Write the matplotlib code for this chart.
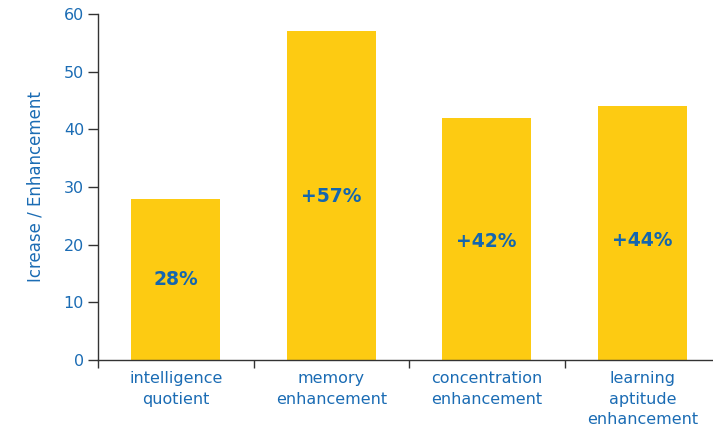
import matplotlib.pyplot as plt
import numpy as np

# data
categories = ["intelligence\nquotient", "memory\nenhancement",
              "concentration\nenhancement", "learning\naptitude\nenhancement"]
values = [28, 57, 42, 44]
bar_labels = ["28%", "+57%", "+42%", "+44%"]

bar_color = "#FDCB12"
text_blue = "#1B6CB4"
label_blue = "#1466AE"

fig = plt.figure(figsize=(7.13, 4.32), dpi=100)
# axes run slightly past the right edge of the figure
ax = fig.add_axes([98 / 713, 1 - 360 / 432, 622 / 713, 346 / 432])

x = np.arange(len(categories))
bars = ax.bar(x, values, width=0.57, color=bar_color, zorder=2)

# value labels placed inside each bar
label_y = [14, 28.3, 20.6, 20.8]
for rect, lab, ly in zip(bars, bar_labels, label_y):
    ax.text(rect.get_x() + rect.get_width() / 2, ly, lab,
            ha="center", va="center", fontsize=13.5, fontweight="bold",
            color=label_blue)

ax.set_xlim(-0.5, 3.5)
ax.set_ylim(0, 60)
ax.set_yticks(range(0, 61, 10))

# category names sit between the boundary ticks
ax.set_xticks(x)
ax.set_xticklabels(categories, fontsize=11.5, color=text_blue, linespacing=1.45)
ax.tick_params(axis="x", length=0, pad=8)
ax.set_xticks(np.arange(-0.5, 4.0, 1.0), minor=True)
ax.tick_params(axis="x", which="minor", length=6, width=1, color="#333333")

ax.tick_params(axis="y", length=7, width=1, color="#333333",
               labelsize=11.5, labelcolor=text_blue, pad=3)

for side in ["top", "right"]:
    ax.spines[side].set_visible(False)
for side in ["left", "bottom"]:
    ax.spines[side].set_color("#333333")
    ax.spines[side].set_linewidth(1)

ax.set_ylabel("Icrease / Enhancement", fontsize=12, color=text_blue, labelpad=14)

fig.savefig("out.png", dpi=100)
